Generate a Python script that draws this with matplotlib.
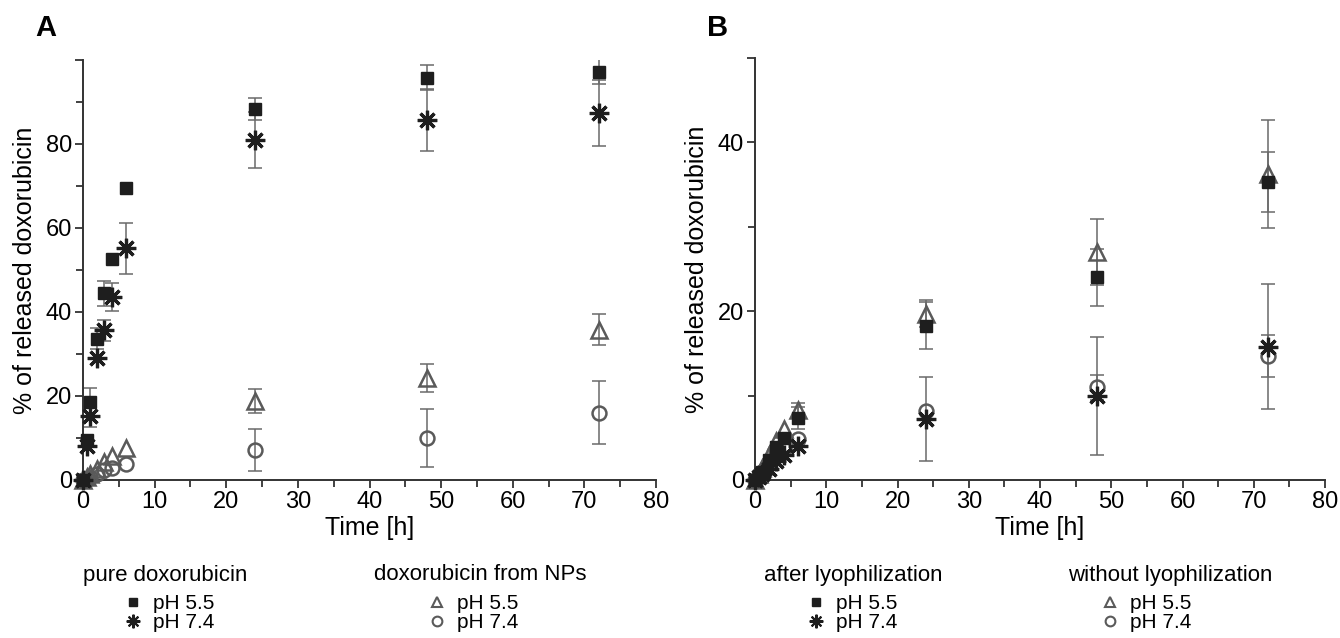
import numpy as np
import matplotlib; matplotlib.use("Agg")
import matplotlib.pyplot as plt
from matplotlib.ticker import MultipleLocator

plt.rcParams['font.family'] = ['Liberation Sans', 'DejaVu Sans']

t = np.array([0, 0.5, 1, 2, 3, 4, 6, 24, 48, 72])

# panel A: pure doxorubicin vs doxorubicin from NPs
a_sq = np.array([0, 9.5, 18.6, 33.6, 44.5, 52.6, 69.5, 88.4, 95.8, 97.2])
a_sq_e = np.array([0, 0, 3.4, 2.5, 3.0, 0, 0, 2.6, 3.0, 3.0])
a_st = np.array([0, 8.0, 15.2, 29.0, 35.7, 43.5, 55.2, 81.0, 85.7, 87.4])
a_st_e = np.array([0, 0, 2.5, 0, 2.5, 3.3, 6.1, 6.6, 7.4, 7.8])
a_tr = np.array([0, 0.6, 1.5, 2.6, 4.2, 5.7, 7.6, 18.8, 24.3, 35.8])
a_tr_e = np.array([0, 0, 0, 0, 0, 0, 0, 2.8, 3.4, 3.7])
a_ci = np.array([0, 0.3, 0.8, 1.4, 2.4, 2.8, 3.8, 7.2, 10.0, 16.0])
a_ci_e = np.array([0, 0, 0, 0, 0, 0, 0, 5.0, 7.0, 7.5])

# panel B: after vs without lyophilization
b_sq = np.array([0, 0.5, 1.0, 2.4, 3.9, 5.0, 7.3, 18.3, 24.0, 35.3])
b_sq_e = np.array([0, 0, 0, 0, 0, 0, 1.3, 2.8, 3.4, 3.6])
b_st = np.array([0, 0.3, 0.7, 1.3, 2.2, 3.0, 4.0, 7.2, 10.0, 15.8])
b_st_e = np.array([0, 0, 0, 0, 0, 0, 0, 5.0, 7.0, 7.4])
b_tr = np.array([0, 0.7, 1.4, 3.0, 4.6, 6.1, 8.3, 19.7, 27.0, 36.3])
b_tr_e = np.array([0, 0, 0, 0, 0, 0, 0.8, 1.6, 3.9, 6.4])
b_ci = np.array([0, 0.5, 1.0, 2.0, 3.2, 3.8, 4.8, 8.2, 11.0, 14.7])
b_ci_e = np.array([0, 0, 0, 0, 0, 0, 0, 0, 1.5, 2.5])

DARK = "#1e1e1e"; GRAY = "#5a5a5a"; EBC = "#6a6a6a"

fig = plt.figure(figsize=(13.4, 6.38), dpi=100)
axA = fig.add_axes([83/1340, 1-480/638, 573/1340, 420/638])
axB = fig.add_axes([755/1340, 1-480/638, 570/1340, 422/638])

def series(ax, y, e, kind):
    m = e > 0
    ax.errorbar(t[m], y[m], yerr=e[m], fmt='none', ecolor=EBC, elinewidth=1.1,
                capsize=5, capthick=1.1, zorder=2)
    if kind == 'sq':
        return ax.plot(t, y, 's', ms=9, color=DARK, mec=DARK, ls='none', zorder=4)[0]
    if kind == 'st':
        return ax.plot(t, y, marker=(8, 2, 0), ms=14, mew=2.3, color=DARK, ls='none', zorder=4)[0]
    if kind == 'tr':
        return ax.plot(t, y, '^', ms=11, mfc='none', mec=GRAY, mew=1.8, ls='none', zorder=3)[0]
    return ax.plot(t, y, 'o', ms=10, mfc='none', mec=GRAY, mew=1.8, ls='none', zorder=3)[0]

hA = [series(axA, a_sq, a_sq_e, 'sq'), series(axA, a_st, a_st_e, 'st'),
      series(axA, a_tr, a_tr_e, 'tr'), series(axA, a_ci, a_ci_e, 'ci')]
hB = [series(axB, b_sq, b_sq_e, 'sq'), series(axB, b_st, b_st_e, 'st'),
      series(axB, b_tr, b_tr_e, 'tr'), series(axB, b_ci, b_ci_e, 'ci')]

for ax, top in [(axA, 100), (axB, 50)]:
    ax.set_xlim(0, 80); ax.set_ylim(0, top)
    ax.spines[['top', 'right']].set_visible(False)
    for s in ['left', 'bottom']:
        ax.spines[s].set_linewidth(1.4); ax.spines[s].set_color("#333333")
    ax.xaxis.set_major_locator(MultipleLocator(10))
    ax.xaxis.set_minor_locator(MultipleLocator(5))
    ax.set_yticks(list(range(0, top + 1, 10)), minor=True)
    ticks = list(range(0, top + 1, 20)) + ([top] if top % 20 else [])
    ax.set_yticks(ticks)
    ax.set_yticklabels([str(v) if v < top else "" for v in ticks])
    ax.tick_params(which='both', direction='out', color="#333333", width=1.3, labelsize=17, pad=2)
    ax.tick_params(which='major', length=6)
    ax.tick_params(which='minor', length=5)
    ax.set_xlabel("Time [h]", fontsize=18, labelpad=2)
    ax.set_ylabel("% of released doxorubicin", fontsize=18, labelpad=6)
for h in hA + hB:
    h.set_clip_on(False)

fig.text(35/1340, 1-28/638, "A", fontsize=21, fontweight='bold', va='center', ha='left')
fig.text(707/1340, 1-28/638, "B", fontsize=21, fontweight='bold', va='center', ha='left')

# group titles
titles = [("pure doxorubicin", 165), ("doxorubicin from NPs", 480),
          ("after lyophilization", 853), ("without lyophilization", 1170)]
for txt, xc in titles:
    fig.text(xc/1340, 1-575/638, txt, fontsize=16, ha='center', va='center')

groups = [(hA[0:2], 124), (hA[2:4], 428), (hB[0:2], 807), (hB[2:4], 1101)]
for hs, x0 in groups:
    leg = fig.legend(hs, ["pH 5.5", "pH 7.4"], loc='upper left',
                     bbox_to_anchor=(x0/1340, 1-594/638), frameon=False, fontsize=15,
                     handlelength=0.9, handletextpad=0.5, labelspacing=0.0,
                     borderpad=0, borderaxespad=0, markerscale=0.7)
    for lh in leg.legend_handles:
        lh.set_markeredgewidth(min(lh.get_markeredgewidth(), 1.5))

fig.savefig("out.png", dpi=100)
